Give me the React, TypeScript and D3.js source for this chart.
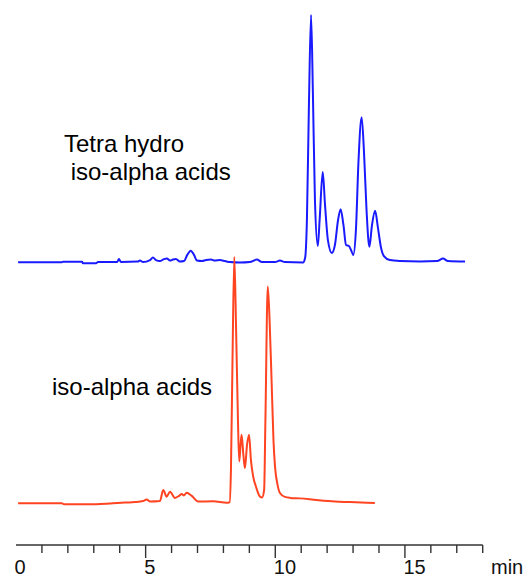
import React, { useRef, useEffect } from "react";
import * as d3 from "d3";

// retention time (min) and relative response (% of tallest peak)
const blueTime = [0.08, 1.77, 1.81, 2.55, 2.58, 3.09, 3.16, 3.9, 3.97, 4.05, 4.7, 4.78, 4.9, 5.17, 5.28, 5.4, 5.55, 5.71, 5.82, 5.94, 6.05, 6.17, 6.32, 6.48, 6.6, 6.74, 6.87, 6.98, 7.17, 7.33, 7.52, 7.67, 7.87, 8.06, 8.25, 8.64, 9.02, 9.29, 9.49, 9.99, 10.18, 10.37, 11.07, 11.15, 11.22, 11.3, 11.38, 11.45, 11.53, 11.64, 11.71, 11.83, 11.92, 12.03, 12.18, 12.3, 12.42, 12.52, 12.63, 12.73, 12.84, 12.92, 13.01, 13.11, 13.21, 13.33, 13.42, 13.52, 13.63, 13.73, 13.85, 13.96, 14.08, 14.19, 14.42, 14.81, 15.58, 16.24, 16.47, 16.66, 17.32];
const blueSignal = [0, 0, 0.2, 0.2, -0.4, -0.4, 0.1, 0.1, 1.3, 0.1, 0.3, 0.7, 0.1, 0.9, 1.9, 0.9, 0.5, 1.3, 1.5, 0.7, 1.1, 1.3, 0.3, 0.5, 2.9, 4.7, 2.9, 0.7, 0.5, 0.9, 1.1, 0.7, 0.9, 0.5, 0.1, -0.1, 0.1, 1.1, 0.1, 0.1, 0.7, 0.1, -0.1, 1.7, 17, 65, 100, 69, 25, 6.6, 17, 36.5, 23, 9, 3.8, 7, 17, 21.5, 15, 7, 6.6, 5, 3, 13, 41, 58.7, 45, 21, 6.3, 15, 20.8, 13.9, 5.8, 2.5, 0.9, 0.5, 0.3, 0.5, 1.5, 0.5, 0.3];

const redTime = [0.08, 1.77, 1.85, 3.09, 3.63, 4.2, 4.59, 4.9, 5.04, 5.17, 5.55, 5.68, 5.81, 5.94, 6.13, 6.29, 6.39, 6.48, 6.58, 6.78, 7.02, 7.6, 8.13, 8.24, 8.29, 8.35, 8.42, 8.49, 8.56, 8.61, 8.66, 8.7, 8.77, 8.83, 8.91, 8.99, 9.06, 9.15, 9.26, 9.41, 9.49, 9.57, 9.62, 9.71, 9.78, 9.86, 9.93, 9.99, 10.09, 10.18, 10.37, 10.57, 10.95, 11.6, 12.3, 12.88, 13.84];
const redSignal = [0, 0, -0.4, -0.4, -0.1, 0.3, 0.5, 0.9, 1.5, 0.7, 0.9, 5.4, 2.7, 4.7, 2.2, 3, 3.8, 3.2, 4.3, 3, 0.7, 0.8, 0.2, 0.5, 13.5, 58, 100, 70, 34, 17, 23.5, 27.8, 19.6, 14.3, 23.7, 27.8, 17.6, 10.8, 6.6, 2.7, 2.4, 5.4, 34, 88, 74.5, 48.9, 25.7, 14.9, 7.4, 4.2, 2.6, 2.2, 2, 1.3, 0.7, 0.5, 0.1];

const minorTicks = d3.range(1, 19);
const majorTicks = [0, 5, 10, 15];
const traceLabels = [
  { lines: ["Tetra hydro", " iso-alpha acids"], series: "blue" },
  { lines: ["iso-alpha acids"], series: "red" },
];

export default function App() {
  const ref = useRef<SVGSVGElement>(null);
  const width = 529;
  const height = 578;

  useEffect(() => {
    const svg = d3.select(ref.current);
    svg.selectAll("*").remove();

    const font = "'Liberation Sans', Arial, sans-serif";
    const x = d3.scaleLinear().domain([0, 18]).range([16, 482.7]);
    const yBlue = d3.scaleLinear().domain([0, 100]).range([262.3, 15]);
    const yRed = d3.scaleLinear().domain([0, 100]).range([503.3, 257]);
    const axisY = 545;

    const drawTrace = (t: number[], v: number[], y: d3.ScaleLinear<number, number>, color: string) => {
      const pts = t.map((d, i) => [d, v[i]] as [number, number]);
      const line = d3.line<[number, number]>()
        .x(d => x(d[0]))
        .y(d => y(d[1]))
        .curve(d3.curveMonotoneX);
      svg.append("path")
        .datum(pts)
        .attr("fill", "none")
        .attr("stroke", color)
        .attr("stroke-width", 2)
        .attr("stroke-linejoin", "round")
        .attr("d", line);
    };

    drawTrace(blueTime, blueSignal, yBlue, "#1a1aff");
    drawTrace(redTime, redSignal, yRed, "#ff4422");

    // axis
    const axis = svg.append("g");
    axis.append("line")
      .attr("x1", x(0)).attr("x2", x(18))
      .attr("y1", axisY).attr("y2", axisY)
      .attr("stroke", "#333").attr("stroke-width", 1.6);
    axis.selectAll("line.tick")
      .data(minorTicks)
      .enter().append("line")
      .attr("class", "tick")
      .attr("x1", d => x(d)).attr("x2", d => x(d))
      .attr("y1", axisY)
      .attr("y2", d => (d % 5 === 0 ? axisY + 13 : axisY + 8))
      .attr("stroke", "#333").attr("stroke-width", 1.4);
    axis.selectAll("text.lbl")
      .data(majorTicks)
      .enter().append("text")
      .attr("class", "lbl")
      .attr("x", d => x(d) - 1.5)
      .attr("y", 574)
      .attr("font-family", font)
      .attr("font-size", 20)
      .attr("fill", "#111")
      .text(d => String(d));
    axis.append("text")
      .attr("x", 491).attr("y", 574)
      .attr("font-family", font)
      .attr("font-size", 20)
      .attr("fill", "#111")
      .text("min");

    // trace labels
    const labelPos: Record<string, { x: number; y: number }> = {
      blue: { x: 64, y: 152 },
      red: { x: 52, y: 395 },
    };
    traceLabels.forEach(lbl => {
      const p = labelPos[lbl.series];
      const t = svg.append("text")
        .attr("font-family", font)
        .attr("font-size", 24)
        .attr("fill", "#000")
        .attr("xml:space", "preserve")
        .style("white-space", "pre");
      lbl.lines.forEach((s, i) => {
        t.append("tspan").attr("x", p.x).attr("y", p.y + i * 28).text(s);
      });
    });
  }, []);

  return (
    <svg ref={ref} width={width} height={height}
      style={{ position: "absolute", left: 0, top: 0, background: "#fff" }} />
  );
}
